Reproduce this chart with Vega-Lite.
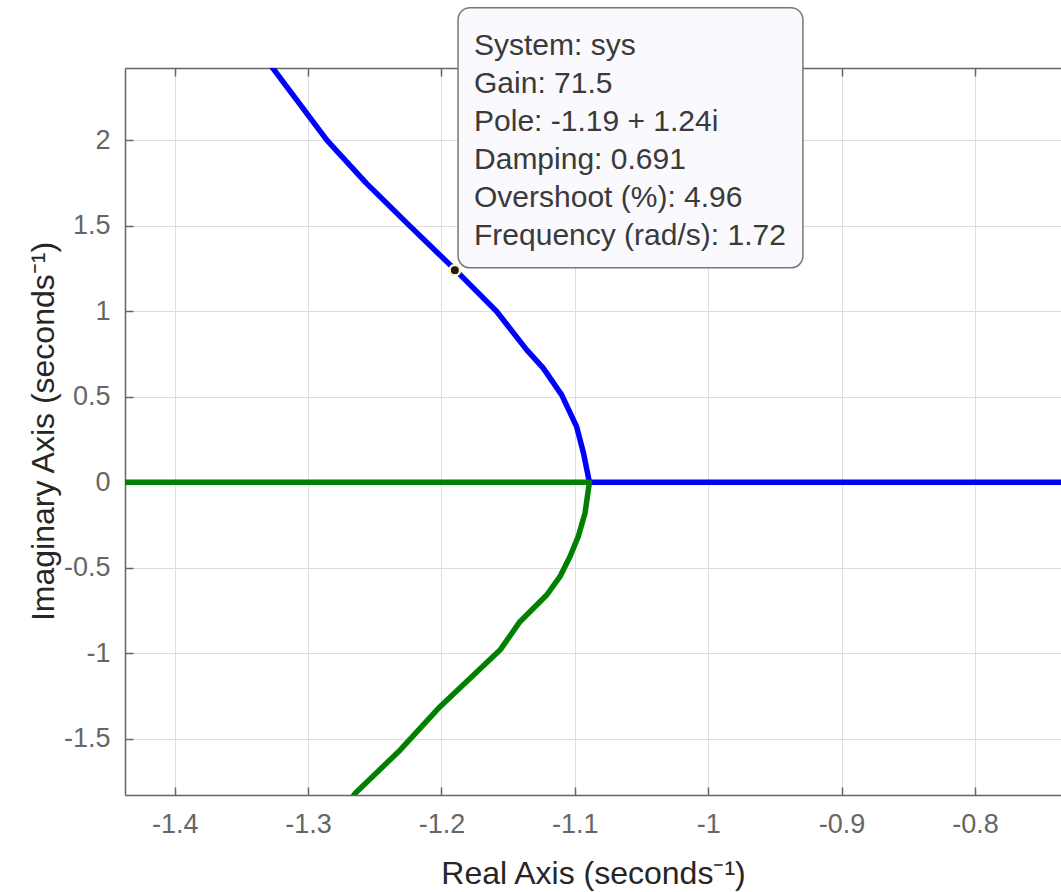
{
  "$schema": "https://vega.github.io/schema/vega-lite/v6.json",
  "width": 936,
  "height": 727,
  "autosize": {"type": "none"},
  "padding": {"left": 125, "top": 68, "right": 0, "bottom": 97},
  "background": "#ffffff",
  "view": {"stroke": null},
  "config": {
    "font": "Liberation Sans",
    "axis": {
      "labelFont": "Liberation Sans",
      "titleFont": "Liberation Sans",
      "labelColor": "#666666",
      "titleColor": "#262626",
      "domainColor": "#666666",
      "tickColor": "#666666",
      "gridColor": "#dedede",
      "gridWidth": 1,
      "domainWidth": 1.5,
      "tickWidth": 1.5
    }
  },
  "datasets": {
    "locus": [
      {"branch": "b", "seg": "b1", "i": 0, "re": -1.334, "im": 2.5},
      {"branch": "b", "seg": "b1", "i": 1, "re": -1.3265, "im": 2.421},
      {"branch": "b", "seg": "b1", "i": 3, "re": -1.2858, "im": 1.998},
      {"branch": "b", "seg": "b1", "i": 4, "re": -1.2566, "im": 1.75},
      {"branch": "b", "seg": "b1", "i": 5, "re": -1.2244, "im": 1.503},
      {"branch": "b", "seg": "b1", "i": 6, "re": -1.1891, "im": 1.237},
      {"branch": "b", "seg": "b1", "i": 7, "re": -1.1586, "im": 0.998},
      {"branch": "b", "seg": "b1", "i": 8, "re": -1.1361, "im": 0.774},
      {"branch": "b", "seg": "b1", "i": 9, "re": -1.1237, "im": 0.667},
      {"branch": "b", "seg": "b1", "i": 10, "re": -1.1099, "im": 0.511},
      {"branch": "b", "seg": "b1", "i": 11, "re": -1.0987, "im": 0.325},
      {"branch": "b", "seg": "b1", "i": 12, "re": -1.0935, "im": 0.17},
      {"branch": "b", "seg": "b1", "i": 13, "re": -1.0891, "im": 0},
      {"branch": "b", "seg": "b1", "i": 14, "re": -0.7, "im": 0},
      {"branch": "g", "seg": "g1", "i": 0, "re": -1.45, "im": 0},
      {"branch": "g", "seg": "g1", "i": 1, "re": -1.0891, "im": 0},
      {"branch": "g", "seg": "g1", "i": 2, "re": -1.0924, "im": -0.181},
      {"branch": "g", "seg": "g1", "i": 3, "re": -1.0975, "im": -0.318},
      {"branch": "g", "seg": "g1", "i": 4, "re": -1.1037, "im": -0.435},
      {"branch": "g", "seg": "g1", "i": 5, "re": -1.1112, "im": -0.552},
      {"branch": "g", "seg": "g1", "i": 6, "re": -1.1211, "im": -0.659},
      {"branch": "g", "seg": "g1", "i": 7, "re": -1.1412, "im": -0.815},
      {"branch": "g", "seg": "g1", "i": 8, "re": -1.1561, "im": -0.981},
      {"branch": "g", "seg": "g1", "i": 9, "re": -1.2011, "im": -1.312},
      {"branch": "g", "seg": "g1", "i": 10, "re": -1.2311, "im": -1.566},
      {"branch": "g", "seg": "g1", "i": 11, "re": -1.2648, "im": -1.819},
      {"branch": "g", "seg": "g1", "i": 12, "re": -1.2675, "im": -1.85}
    ],
    "tip": [
      {"re": -1.19, "im": 1.24, "boxLeft": -1.1876, "boxBottom": 1.2532, "boxRight": -0.929, "boxTop": 2.774,
       "label": ["System: sys", "Gain: 71.5", "Pole: -1.19 + 1.24i", "Damping: 0.691", "Overshoot (%): 4.96", "Frequency (rad/s): 1.72"]}
    ]
  },
  "layer": [
    {
      "data": {"name": "locus"},
      "mark": {"type": "line", "strokeWidth": 5.5, "clip": true, "strokeJoin": "round"},
      "encoding": {
        "x": {
          "field": "re", "type": "quantitative",
          "scale": {"domain": [-1.4373, -0.7355], "nice": false, "zero": false},
          "axis": {
            "orient": "bottom",
            "values": [-1.4, -1.3, -1.2, -1.1, -1.0, -0.9, -0.8],
            "labelExpr": "'' + datum.value",
            "labelFontSize": 27,
            "labelPadding": 24,
            "tickSize": -8,
            "grid": true,
            "title": "Real Axis (seconds⁻¹)",
            "titleFontSize": 32,
            "titleFontWeight": "normal",
            "titleX": 468,
            "titleY": 88,
            "titleBaseline": "alphabetic"
          }
        },
        "y": {
          "field": "im", "type": "quantitative",
          "scale": {"domain": [-1.828, 2.4215], "nice": false, "zero": false},
          "axis": {
            "orient": "left",
            "values": [-1.5, -1, -0.5, 0, 0.5, 1, 1.5, 2],
            "labelExpr": "'' + datum.value",
            "labelFontSize": 27,
            "labelPadding": 23,
            "tickSize": -8,
            "grid": true,
            "title": "Imaginary Axis (seconds⁻¹)",
            "titleFontSize": 32,
            "titleFontWeight": "normal",
            "titleAngle": -90,
            "titleX": -72,
            "titleY": 363,
            "titleBaseline": "alphabetic",
            "titleAlign": "center"
          }
        },
        "order": {"field": "i", "type": "quantitative"},
        "detail": {"field": "seg"},
        "color": {
          "field": "branch", "type": "nominal",
          "scale": {"domain": ["b", "g"], "range": ["#0000ff", "#007f00"]},
          "legend": null
        }
      }
    },
    {
      "data": {"name": "locus"},
      "mark": {"type": "rule", "opacity": 0},
      "encoding": {
        "x": {
          "field": "re", "type": "quantitative",
          "axis": {
            "orient": "top",
            "values": [-1.4, -1.3, -1.2, -1.1, -1.0, -0.9, -0.8],
            "labels": false,
            "grid": false,
            "tickSize": -8,
            "title": null
          }
        }
      }
    },
    {
      "data": {"name": "tip"},
      "mark": {"type": "rect", "fill": "#f9f9fe", "stroke": "#777777", "strokeWidth": 1.5, "cornerRadius": 12, "clip": false},
      "encoding": {
        "x": {"field": "boxLeft", "type": "quantitative", "axis": null},
        "x2": {"field": "boxRight"},
        "y": {"field": "boxBottom", "type": "quantitative"},
        "y2": {"field": "boxTop"}
      }
    },
    {
      "data": {"name": "tip"},
      "mark": {"type": "text", "align": "left", "baseline": "alphabetic", "dx": 16, "dy": 47, "fontSize": 30, "lineHeight": 38, "color": "#3a3a3a", "font": "Liberation Sans"},
      "encoding": {
        "x": {"field": "boxLeft", "type": "quantitative", "axis": null},
        "y": {"field": "boxTop", "type": "quantitative"},
        "text": {"field": "label"}
      }
    },
    {
      "data": {"name": "tip"},
      "mark": {"type": "point", "filled": true, "shape": "circle", "size": 110, "color": "#1a1a1a", "stroke": "#fff4c0", "strokeWidth": 2.5, "strokeOpacity": 1, "opacity": 1},
      "encoding": {
        "x": {"field": "re", "type": "quantitative", "axis": null},
        "y": {"field": "im", "type": "quantitative"}
      }
    }
  ]
}
